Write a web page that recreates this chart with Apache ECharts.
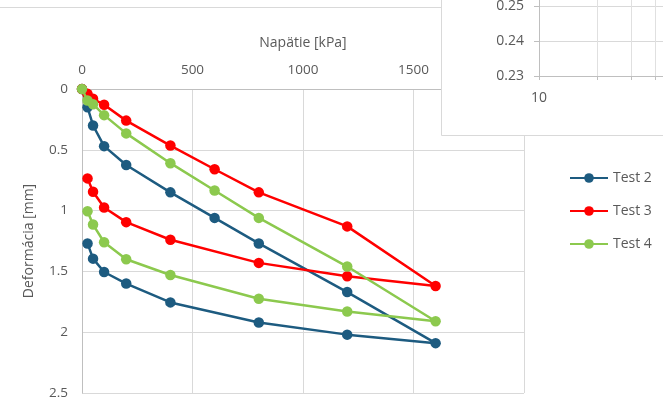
<!DOCTYPE html>
<html>
<head>
<meta charset="utf-8">
<script src="https://cdn.jsdelivr.net/npm/echarts@6/dist/echarts.min.js"></script>
<style>
html,body{margin:0;padding:0;background:#fff;}
#c{width:663px;height:414px;}
</style>
</head>
<body>
<div id="c"></div>
<script>
// Stress steps (loading then unloading), kPa
const stress = [0, 25, 50, 100, 200, 400, 600, 800, 1200, 1600, 1200, 800, 400, 200, 100, 50, 25];
// Deformation, mm
const test2 = [0, 0.15, 0.30, 0.47, 0.625, 0.85, 1.06, 1.27, 1.67, 2.09, 2.02, 1.92, 1.755, 1.60, 1.505, 1.395, 1.27];
const test3 = [0, 0.04, 0.08, 0.13, 0.26, 0.465, 0.66, 0.85, 1.13, 1.62, 1.54, 1.43, 1.24, 1.095, 0.975, 0.845, 0.735];
const test4 = [0, 0.095, 0.125, 0.215, 0.365, 0.61, 0.835, 1.06, 1.46, 1.91, 1.83, 1.725, 1.53, 1.40, 1.26, 1.115, 1.005];
const seriesNames = ['Test 2', 'Test 3', 'Test 4'];
const xTitle = 'Napätie [kPa]';
const yTitle = 'Deformácia [mm]';
// Partially visible inset chart (overlapping window) tick values
const insetYTicks = [0.23, 0.24, 0.25, 0.26];
const insetXTicks = [10, 20, 30, 40, 50, 60, 70, 80, 90, 100];
const insetXLabels = [10, 100];

const colors = ['#1d5b80', '#ff0000', '#8cc94e'];
const font = '"Open Sans", Lato, sans-serif';
const txt = '#595959';

function pairs(ys) { return stress.map((x, i) => [x, ys[i]]); }

const chart = echarts.init(document.getElementById('c'), null, {renderer: 'canvas'});
chart.setOption({
  animation: false,
  backgroundColor: '#ffffff',
  textStyle: {fontFamily: font},
  grid: [
    {left: 82, top: 89, width: 442, height: 304, containLabel: false, outerBoundsMode: 'none'},
    {left: 539, top: -29, width: 193, height: 105, containLabel: false, outerBoundsMode: 'none'}
  ],
  legend: {
    orient: 'vertical', left: 564, top: 166,
    itemWidth: 38, itemHeight: 12, itemGap: 19,
    textStyle: {color: txt, fontSize: 14, fontFamily: font},
    data: seriesNames
  },
  graphic: [
    {type: 'line', z: 40, shape: {x1: 0, y1: 7.5, x2: 441, y2: 7.5}, style: {stroke: '#d9d9d9', lineWidth: 1}},
    {type: 'rect', z: 50, shape: {x: 441.5, y: -5, width: 240, height: 140.5}, style: {fill: '#ffffff', stroke: '#d9d9d9', lineWidth: 1}}
  ],
  xAxis: [
    {
      gridIndex: 0, type: 'value', position: 'top', min: 0, max: 2000, interval: 500,
      name: xTitle, nameLocation: 'middle', nameGap: 39,
      nameTextStyle: {color: txt, fontSize: 14, fontFamily: font},
      axisLine: {show: true, lineStyle: {color: '#bfbfbf', width: 1}},
      axisTick: {show: false},
      axisLabel: {color: txt, fontSize: 13.5, margin: 12, fontFamily: font, formatter: v => String(v)},
      splitLine: {show: true, lineStyle: {color: '#d9d9d9', width: 1}}
    },
    {
      gridIndex: 1, type: 'log', logBase: 10, min: 10, max: 100, z: 60,
      axisLine: {show: true, onZero: false, lineStyle: {color: '#bfbfbf', width: 1}},
      axisTick: {show: true, length: 4, customValues: insetXTicks, lineStyle: {color: '#bfbfbf'}},
      axisLabel: {color: txt, fontSize: 14, margin: 15, fontFamily: font, customValues: insetXLabels},
      splitLine: {show: true, lineStyle: {color: '#e0e0e0'}}
    }
  ],
  yAxis: [
    {
      gridIndex: 0, type: 'value', inverse: true, min: 0, max: 2.5, interval: 0.5,
      name: yTitle, nameLocation: 'middle', nameGap: 46, nameRotate: 90,
      nameTextStyle: {color: txt, fontSize: 14, fontFamily: font},
      axisLine: {show: true, lineStyle: {color: '#bfbfbf', width: 1}},
      axisTick: {show: false},
      axisLabel: {color: txt, fontSize: 13.5, margin: 14, fontFamily: font},
      splitLine: {show: true, lineStyle: {color: '#d9d9d9', width: 1}}
    },
    {
      gridIndex: 1, type: 'value', min: insetYTicks[0], max: insetYTicks[insetYTicks.length - 1], interval: 0.01, z: 60,
      axisLine: {show: true, lineStyle: {color: '#bfbfbf', width: 1}},
      axisTick: {show: true, length: 5, lineStyle: {color: '#bfbfbf'}},
      axisLabel: {color: txt, fontSize: 14, margin: 15, fontFamily: font,
        formatter: v => v.toFixed(2)},
      splitLine: {show: true, lineStyle: {color: '#d9d9d9'}}
    }
  ],
  series: [test2, test3, test4].map((d, i) => ({
    name: seriesNames[i], type: 'line', xAxisIndex: 0, yAxisIndex: 0,
    data: pairs(d),
    symbol: 'circle', symbolSize: 10.5, showSymbol: true,
    lineStyle: {color: colors[i], width: 2.5},
    itemStyle: {color: colors[i]},
    z: 10 + i
  }))
});
</script>
</body>
</html>
